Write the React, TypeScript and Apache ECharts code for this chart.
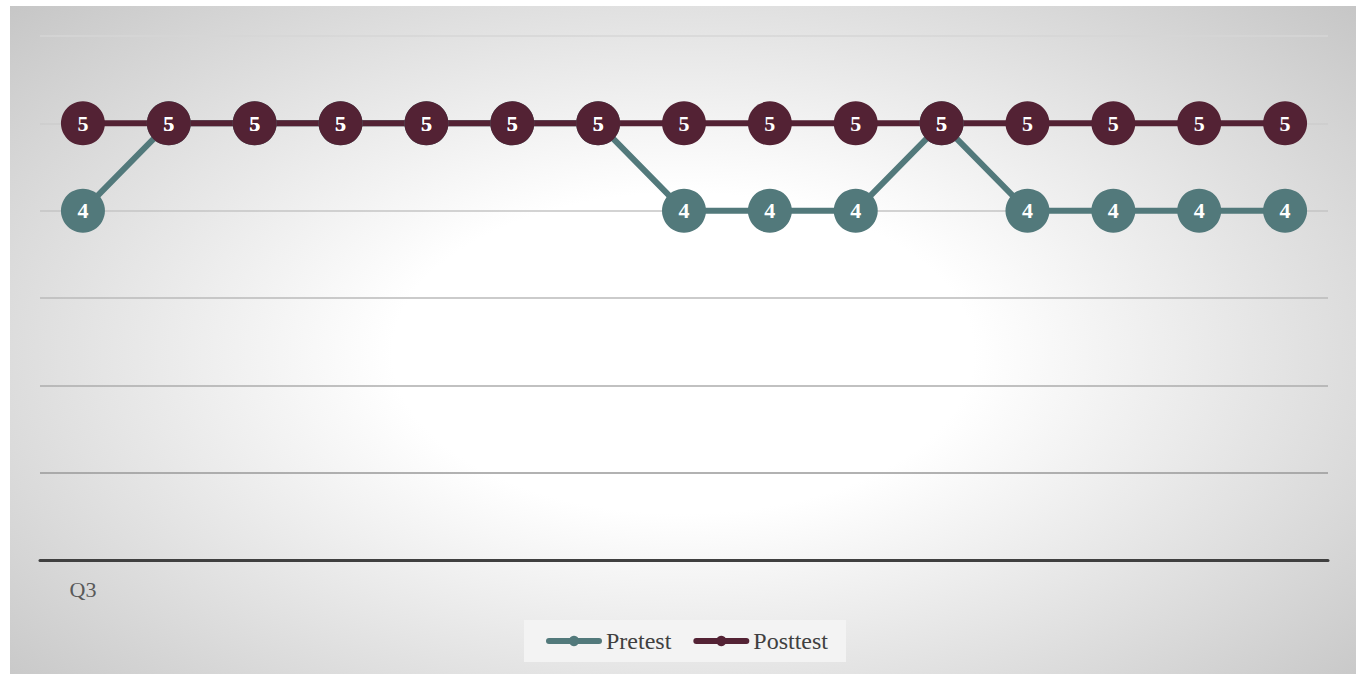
import React, { useEffect, useRef } from "react";
import * as echarts from "echarts";

const categories = ["Q3", "", "", "", "", "", "", "", "", "", "", "", "", "", ""];
const pretest = [4, 5, 5, 5, 5, 5, 5, 4, 4, 4, 5, 4, 4, 4, 4];
const posttest = [5, 5, 5, 5, 5, 5, 5, 5, 5, 5, 5, 5, 5, 5, 5];
const seriesNames = ["Pretest", "Posttest"];
const seriesColors = ["#52797b", "#532234"];

const FONT = "Liberation Serif";

export default function App() {
  const ref = useRef<HTMLDivElement>(null);

  useEffect(() => {
    if (!ref.current) return;
    const chart = echarts.init(ref.current, undefined, { renderer: "svg" });
    const makeSeries = (name: string, data: number[], color: string) => ({
      name,
      type: "line",
      data,
      symbol: "circle",
      symbolSize: 44,
      itemStyle: { color },
      lineStyle: { color, width: 6 },
      label: {
        show: true,
        position: "inside",
        color: "#ffffff",
        fontFamily: FONT,
        fontWeight: "bold",
        fontSize: 22,
      },
      emphasis: { disabled: true },
    });
    chart.setOption({
      animation: false,
      backgroundColor: "transparent",
      textStyle: { fontFamily: FONT },
      grid: { left: 30, right: 28, top: 30, bottom: 114 },
      legend: {
        bottom: 12,
        left: 514,
        data: seriesNames,
        backgroundColor: "#f3f3f3",
        padding: [9, 18, 9, 22],
        itemGap: 22,
        itemWidth: 50,
        itemHeight: 13,
        lineStyle: { width: 6, cap: "round" },
        textStyle: { color: "#404040", fontSize: 24, fontFamily: FONT, padding: [0, 0, 0, 2] },
      },
      xAxis: {
        type: "category",
        data: categories,
        boundaryGap: true,
        axisLine: { lineStyle: { color: "#404040", width: 3 } },
        axisTick: { show: false },
        axisLabel: { color: "#595959", fontSize: 22, fontFamily: FONT, margin: 18, interval: 0 },
      },
      yAxis: {
        type: "value",
        min: 0,
        max: 6,
        interval: 1,
        axisLabel: { show: false },
        axisLine: { show: false },
        axisTick: { show: false },
        splitLine: {
          lineStyle: {
            width: 1.5,
            color: ["#808080", "#999999", "#acacac", "#bababa", "#c4c4c4", "#cccccc", "#d6d6d6"],
          },
        },
      },
      series: [
        makeSeries(seriesNames[0], pretest, seriesColors[0]),
        makeSeries(seriesNames[1], posttest, seriesColors[1]),
      ],
    });
    return () => chart.dispose();
  }, []);

  return (
    <div
      style={{
        position: "absolute",
        left: 10,
        top: 6,
        width: 1346,
        height: 668,
        background: "radial-gradient(ellipse 72% 80% at 50% 52%, #ffffff 30%, #c2c2c2 100%)",
      }}
    >
      <div ref={ref} style={{ width: "100%", height: "100%" }} />
    </div>
  );
}
